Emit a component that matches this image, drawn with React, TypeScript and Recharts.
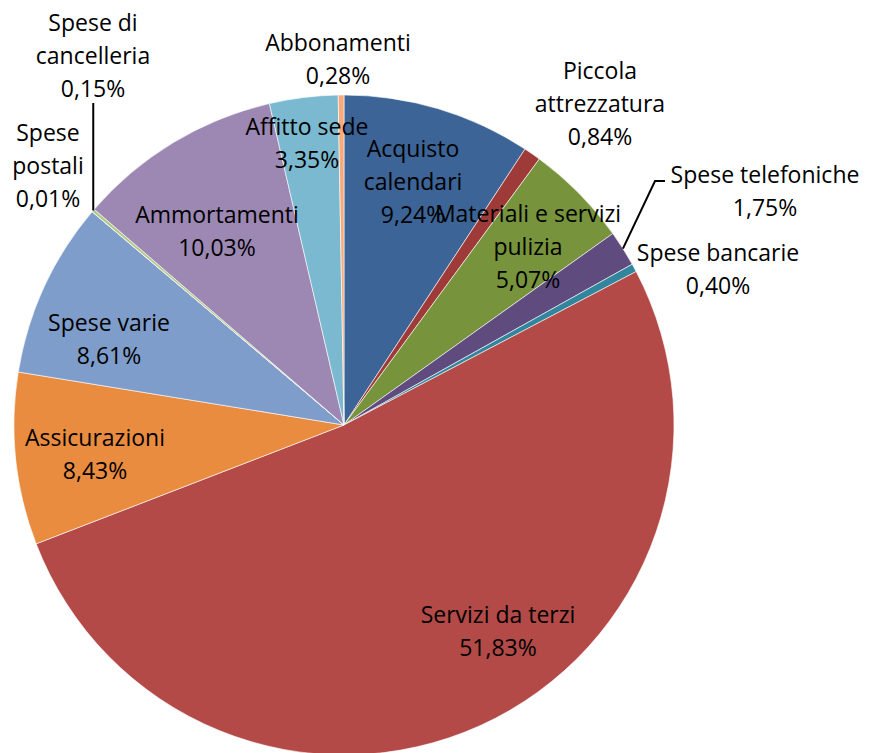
import React from "react";
import { PieChart, Pie, Cell } from "recharts";

// categories in clockwise order starting at 12 o'clock
const categories = [
  "Acquisto calendari",
  "Piccola attrezzatura",
  "Materiali e servizi pulizia",
  "Spese telefoniche",
  "Spese bancarie",
  "Servizi da terzi",
  "Assicurazioni",
  "Spese varie",
  "Spese postali",
  "Spese di cancelleria",
  "Ammortamenti",
  "Affitto sede",
  "Abbonamenti",
];

const shares = [9.24, 0.84, 5.07, 1.75, 0.4, 51.83, 8.43, 8.61, 0.01, 0.15, 10.03, 3.35, 0.28];

const COLORS = [
  "#3C6496",
  "#9E3B39",
  "#77933C",
  "#5F4B7E",
  "#31859C",
  "#B34A47",
  "#E98C40",
  "#7F9DCA",
  "#CF7C7A",
  "#B3C98A",
  "#9C88B3",
  "#7AB9CF",
  "#F7AB7C",
];

const data = categories.map((name, i) => ({ name, value: shares[i] }));

// label text wrapping and placement (offset of the label block centre from pie centre)
const LABEL_LAYOUT: Record<string, { lines: string[]; dx: number; dy: number; leader?: number[][] }> = {
  "Acquisto calendari": { lines: ["Acquisto", "calendari"], dx: 69, dy: -244 },
  "Piccola attrezzatura": { lines: ["Piccola", "attrezzatura"], dx: 256, dy: -322 },
  "Materiali e servizi pulizia": { lines: ["Materiali e servizi", "pulizia"], dx: 184, dy: -179 },
  "Spese telefoniche": {
    lines: ["Spese telefoniche"],
    dx: 421,
    dy: -235,
    leader: [
      [311, -244],
      [321, -244],
    ],
  },
  "Spese bancarie": { lines: ["Spese bancarie"], dx: 374, dy: -157 },
  "Servizi da terzi": { lines: ["Servizi da terzi"], dx: 154, dy: 205 },
  Assicurazioni: { lines: ["Assicurazioni"], dx: -249, dy: 28 },
  "Spese varie": { lines: ["Spese varie"], dx: -235, dy: -87 },
  "Spese postali": { lines: ["Spese", "postali"], dx: -296, dy: -260 },
  "Spese di cancelleria": {
    lines: ["Spese di", "cancelleria"],
    dx: -251,
    dy: -370,
    leader: [[-252, -322]],
  },
  Ammortamenti: { lines: ["Ammortamenti"], dx: -127, dy: -195 },
  "Affitto sede": { lines: ["Affitto sede"], dx: -37, dy: -283 },
  Abbonamenti: { lines: ["Abbonamenti"], dx: -6, dy: -367 },
};

const RADIAN = Math.PI / 180;
const LINE_H = 33;

const renderLabel = (props: any) => {
  const { cx, cy, midAngle, outerRadius, name, value } = props;
  const layout = LABEL_LAYOUT[name];
  if (!layout) return null;
  const lines = [...layout.lines, value.toFixed(2).replace(".", ",") + "%"];
  const x = cx + layout.dx;
  const yTop = cy + layout.dy - ((lines.length - 1) * LINE_H) / 2;

  let leader = null;
  if (layout.leader) {
    const ex = cx + outerRadius * Math.cos(-midAngle * RADIAN);
    const ey = cy + outerRadius * Math.sin(-midAngle * RADIAN);
    const pts = [[ex, ey], ...layout.leader.map(([px, py]) => [cx + px, cy + py])];
    // single-point leader (cancelleria) goes straight up from the edge
    if (layout.leader.length === 1) pts[1][0] = ex;
    leader = (
      <polyline
        points={pts.map((p) => p.join(",")).join(" ")}
        fill="none"
        stroke="#000"
        strokeWidth={2}
      />
    );
  }

  return (
    <g key={`label-${name}`}>
      {leader}
      <text
        x={x}
        y={yTop}
        textAnchor="middle"
        fill="#000"
        fontFamily="'Open Sans', sans-serif"
        fontSize={23}
        dominantBaseline="central"
      >
        {lines.map((l, i) => (
          <tspan key={i} x={x} y={yTop + i * LINE_H}>
            {l}
          </tspan>
        ))}
      </text>
    </g>
  );
};

export default function App() {
  return (
    <div style={{ position: "absolute", left: 0, top: 0, background: "#fff" }}>
      <PieChart width={869} height={753} margin={{ top: 0, right: 0, bottom: 0, left: 0 }}>
        <Pie
          data={data}
          dataKey="value"
          nameKey="name"
          cx={344}
          cy={425}
          outerRadius={330}
          startAngle={90}
          endAngle={-270}
          stroke="#ffffff"
          strokeWidth={0.6}
          label={renderLabel}
          labelLine={false}
          isAnimationActive={false}
        >
          {data.map((entry, index) => (
            <Cell key={`cell-${index}`} fill={COLORS[index]} />
          ))}
        </Pie>
      </PieChart>
    </div>
  );
}
